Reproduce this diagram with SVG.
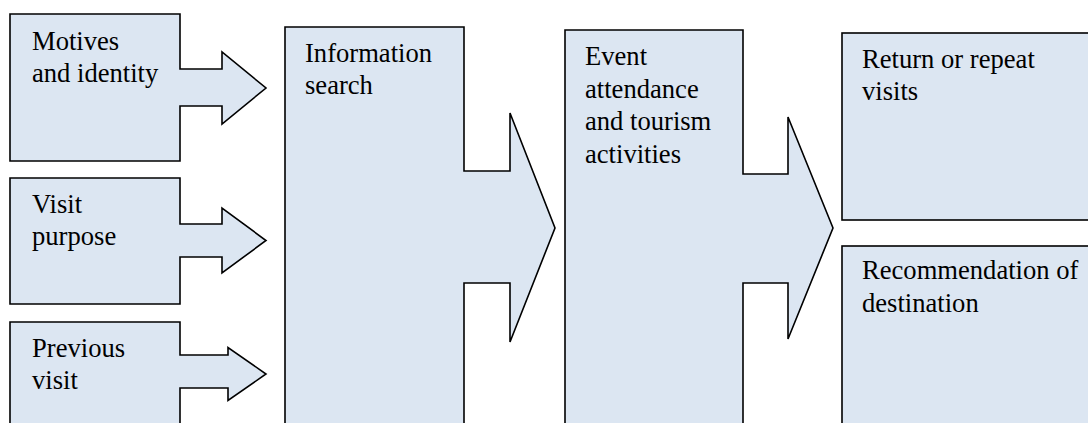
<svg xmlns="http://www.w3.org/2000/svg" width="1088" height="423" viewBox="0 0 1088 423">
<style>
.box{fill:#DCE6F2;stroke:#000;stroke-width:1.6;stroke-linejoin:miter}
.t{font-family:"Liberation Serif","Times New Roman",serif;font-size:26.6px;fill:#000}
</style>
<rect width="1088" height="423" fill="#fff"/>
<g id="motives">
<polygon class="box" points="10,14 180,14 180,69 222,69 222,52 266,88 222,124 222,106 180,106 180,161 10,161"/>
<text class="t" x="32" y="50">Motives</text>
<text class="t" x="32" y="82">and identity</text>
</g>
<g id="visit-purpose">
<polygon class="box" points="10,178 180,178 180,224 222,224 222,208 266,240.5 222,273 222,257 180,257 180,304 10,304"/>
<text class="t" x="32" y="213">Visit</text>
<text class="t" x="32" y="245">purpose</text>
</g>
<g id="previous-visit">
<polygon class="box" points="10,322 180,322 180,355 228,355 228,347.5 266,374 228,400.5 228,388 180,388 180,430 10,430"/>
<text class="t" x="32" y="357">Previous</text>
<text class="t" x="32" y="389">visit</text>
</g>
<g id="information-search">
<polygon class="box" points="285,27 464,27 464,171 510,171 510,113 555,228 510,342 510,283 464,283 464,430 285,430"/>
<text class="t" x="305" y="62">Information</text>
<text class="t" x="305" y="94">search</text>
</g>
<g id="event-attendance">
<polygon class="box" points="565,30 743,30 743,174 788,174 788,117 833,228 788,339 788,283 743,283 743,430 565,430"/>
<text class="t" x="585" y="65">Event</text>
<text class="t" x="585" y="97.5">attendance</text>
<text class="t" x="585" y="130">and tourism</text>
<text class="t" x="585" y="163">activities</text>
</g>
<g id="return-visits">
<rect class="box" x="842" y="33" width="260" height="187"/>
<text class="t" x="862" y="68">Return or repeat</text>
<text class="t" x="862" y="100">visits</text>
</g>
<g id="recommendation">
<rect class="box" x="842" y="246" width="260" height="190"/>
<text class="t" x="862" y="279">Recommendation of</text>
<text class="t" x="862" y="312">destination</text>
</g>
<g id="connectors"></g>
</svg>
